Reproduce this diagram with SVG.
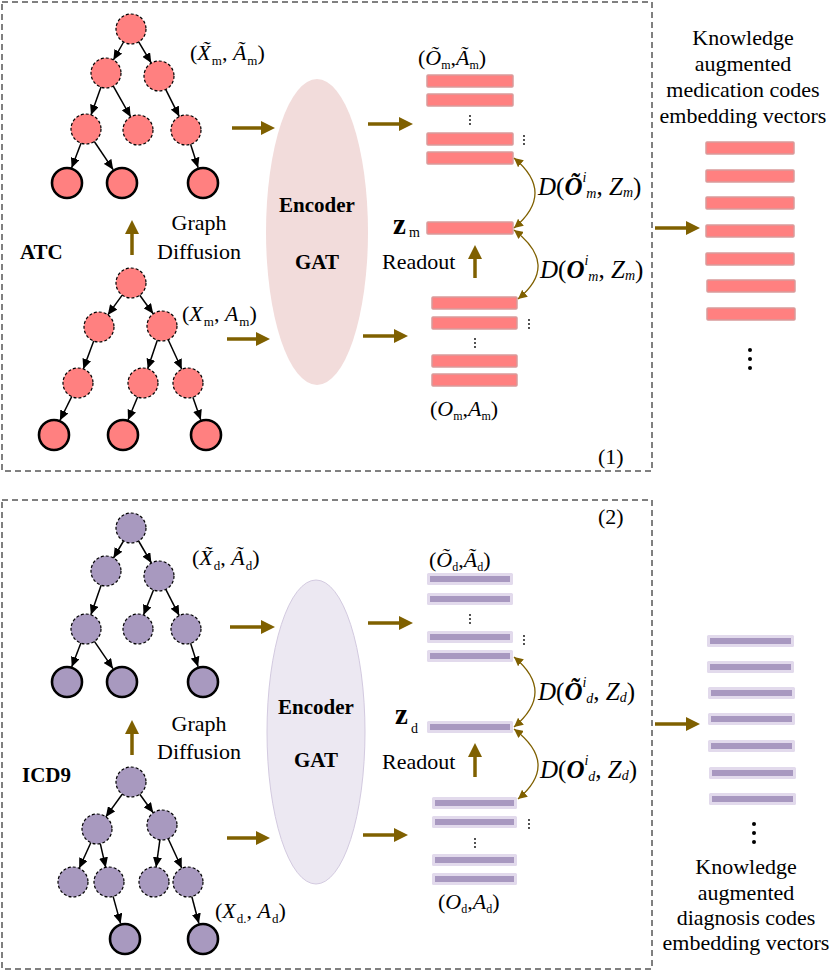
<svg xmlns="http://www.w3.org/2000/svg" width="830" height="971" viewBox="0 0 830 971">
<style>
text{font-family:"Liberation Serif","Times New Roman",serif;fill:#000}
.box{fill:none;stroke:#000;stroke-width:1;stroke-dasharray:6,4}
.pn{fill:#FF8080;stroke:#000;stroke-width:1.2;stroke-dasharray:3,2}
.pl{fill:#FF8080;stroke:#000;stroke-width:2.6}
.un{fill:#A899BF;stroke:#000;stroke-width:1.2;stroke-dasharray:3,2}
.ul{fill:#A899BF;stroke:#000;stroke-width:2.6}
.e{stroke:#000;stroke-width:1.5;fill:none;marker-end:url(#ah)}
.b{stroke:#7F6000;stroke-width:3.5;fill:none;marker-end:url(#bh)}
.c{stroke:#7F6000;stroke-width:1.3;fill:none;marker-start:url(#ch);marker-end:url(#ch)}
.pb{fill:#FF8080;stroke:#D99A9A;stroke-width:1.5}
.ub{fill:#E2DAEC}
.ui{fill:#A898C0}
.t{font-size:22px}
.bo{font-size:21px;font-weight:bold}
.it{font-style:italic}
.dt{fill:#000}
</style>
<defs>
<marker id="ah" markerUnits="userSpaceOnUse" markerWidth="10" markerHeight="9" refX="10" refY="4.5" orient="auto"><path d="M0,0 L10,4.5 L0,9 z" fill="#000"/></marker>
<marker id="bh" markerUnits="userSpaceOnUse" markerWidth="15" markerHeight="14" refX="4" refY="7" orient="auto"><path d="M0,0 L14,7 L0,14 z" fill="#7F6000"/></marker>
<marker id="ch" markerUnits="userSpaceOnUse" markerWidth="10" markerHeight="9" refX="9" refY="4.5" orient="auto-start-reverse"><path d="M0,0 L9,4.5 L0,9 z" fill="#7F6000"/></marker>
</defs>

<rect class="box" x="2" y="2" width="650" height="469"/>
<rect class="box" x="2" y="500" width="650" height="469"/>

<!-- ellipses -->
<g id="encoder-m">
<ellipse cx="317" cy="232" rx="51" ry="153" fill="#F2DCDB"/>
<text class="bo" x="317" y="212" text-anchor="middle">Encoder</text>
<text class="bo" x="317" y="269" text-anchor="middle">GAT</text>
</g>
<g id="encoder-d">
<ellipse cx="316" cy="732" rx="49" ry="152" fill="#ECE8F2" stroke="#D3CAE0" stroke-width="1"/>
<text class="bo" x="316" y="714" text-anchor="middle">Encoder</text>
<text class="bo" x="316" y="767" text-anchor="middle">GAT</text>
</g>

<!-- tree 1 (tilde m) -->
<g id="tree-m-tilde">
<circle class="pn" cx="131" cy="29" r="15"/>
<circle class="pn" cx="106" cy="73" r="15"/>
<circle class="pn" cx="159" cy="76" r="15"/>
<circle class="pn" cx="86" cy="129" r="15"/>
<circle class="pn" cx="138" cy="130" r="15"/>
<circle class="pn" cx="186" cy="130" r="15"/>
<circle class="pl" cx="67" cy="183" r="15"/>
<circle class="pl" cx="122" cy="183" r="15"/>
<circle class="pl" cx="203" cy="183" r="15"/>
</g>
<!-- tree 2 (m) -->
<g id="tree-m">
<circle class="pn" cx="131" cy="283" r="15"/>
<circle class="pn" cx="99" cy="327" r="15"/>
<circle class="pn" cx="162" cy="326" r="15"/>
<circle class="pn" cx="78" cy="383" r="15"/>
<circle class="pn" cx="143" cy="383" r="15"/>
<circle class="pn" cx="188" cy="383" r="15"/>
<circle class="pl" cx="54" cy="435" r="15"/>
<circle class="pl" cx="123" cy="435" r="15"/>
<circle class="pl" cx="206" cy="435" r="15"/>
</g>
<!-- tree 3 (tilde d) -->
<g id="tree-d-tilde">
<circle class="un" cx="131" cy="528" r="15"/>
<circle class="un" cx="106" cy="571" r="15"/>
<circle class="un" cx="159" cy="576" r="15"/>
<circle class="un" cx="86" cy="629" r="15"/>
<circle class="un" cx="138" cy="629" r="15"/>
<circle class="un" cx="186" cy="629" r="15"/>
<circle class="ul" cx="67" cy="682" r="15"/>
<circle class="ul" cx="122" cy="682" r="15"/>
<circle class="ul" cx="203" cy="682" r="15"/>
</g>
<!-- tree 4 (d) -->
<g id="tree-d">
<circle class="un" cx="131" cy="782" r="15"/>
<circle class="un" cx="97" cy="829" r="15"/>
<circle class="un" cx="162" cy="825" r="15"/>
<circle class="un" cx="73" cy="882" r="15"/>
<circle class="un" cx="109" cy="882" r="15"/>
<circle class="un" cx="154" cy="882" r="15"/>
<circle class="un" cx="188" cy="882" r="15"/>
<circle class="ul" cx="125" cy="939" r="15"/>
<circle class="ul" cx="203" cy="939" r="15"/>
</g>

<!-- bars -->
<g id="bars-m-tilde">
<rect class="pb" x="427" y="75" width="86" height="12" rx="1"/>
<rect class="pb" x="427" y="94" width="86" height="12" rx="1"/>
<rect class="pb" x="427" y="133" width="86" height="12" rx="1"/>
<rect class="pb" x="427" y="152" width="86" height="12" rx="1"/>
<circle class="dt" cx="470" cy="116" r="0.9"/><circle class="dt" cx="470" cy="120" r="0.9"/><circle class="dt" cx="470" cy="124" r="0.9"/>
<circle class="dt" cx="524" cy="136" r="0.9"/><circle class="dt" cx="524" cy="140" r="0.9"/><circle class="dt" cx="524" cy="144" r="0.9"/>
<text class="t" x="418" y="65" font-size="20">(<tspan class="it">Õ</tspan><tspan font-size="12" dy="4">m</tspan><tspan dy="-4">,</tspan><tspan class="it">Ã</tspan><tspan font-size="12" dy="4">m</tspan><tspan dy="-4">)</tspan></text>
</g>
<g id="bar-zm">
<rect class="pb" x="427" y="222" width="86" height="12" rx="1"/>
<text x="393" y="234" font-size="29" font-weight="bold">z</text>
<text x="409" y="237" font-size="14">m</text>
</g>
<g id="bars-m">
<rect class="pb" x="432" y="297" width="85" height="12" rx="1"/>
<rect class="pb" x="432" y="317" width="85" height="12" rx="1"/>
<rect class="pb" x="432" y="355" width="85" height="12" rx="1"/>
<rect class="pb" x="432" y="374" width="85" height="12" rx="1"/>
<circle class="dt" cx="475" cy="339" r="0.9"/><circle class="dt" cx="475" cy="343" r="0.9"/><circle class="dt" cx="475" cy="347" r="0.9"/>
<circle class="dt" cx="529" cy="320" r="0.9"/><circle class="dt" cx="529" cy="324" r="0.9"/><circle class="dt" cx="529" cy="328" r="0.9"/>
<text class="t" x="430" y="416" font-size="20">(<tspan class="it">O</tspan><tspan font-size="12" dy="4">m</tspan><tspan dy="-4">,</tspan><tspan class="it">A</tspan><tspan font-size="12" dy="4">m</tspan><tspan dy="-4">)</tspan></text>
</g>
<g id="bars-m-out">
<rect class="pb" x="706" y="142" width="88" height="12" rx="1"/>
<rect class="pb" x="706" y="170" width="88" height="12" rx="1"/>
<rect class="pb" x="706" y="197" width="88" height="12" rx="1"/>
<rect class="pb" x="706" y="225" width="88" height="12" rx="1"/>
<rect class="pb" x="706" y="253" width="88" height="12" rx="1"/>
<rect class="pb" x="707" y="280" width="88" height="12" rx="1"/>
<rect class="pb" x="707" y="308" width="88" height="12" rx="1"/>
<circle class="dt" cx="750" cy="350" r="2"/><circle class="dt" cx="750" cy="359" r="2"/><circle class="dt" cx="750" cy="368" r="2"/>
<text class="t" text-anchor="middle"><tspan x="743" y="45">Knowledge</tspan><tspan x="743" y="71">augmented</tspan><tspan x="743" y="97">medication codes</tspan><tspan x="743" y="123">embedding vectors</tspan></text>
</g>

<g id="bars-d-tilde">
<rect class="ub" x="427" y="573" width="86" height="12" rx="1.5"/><rect class="ui" x="430" y="576" width="80" height="6"/>
<rect class="ub" x="427" y="593" width="86" height="12" rx="1.5"/><rect class="ui" x="430" y="596" width="80" height="6"/>
<rect class="ub" x="427" y="631" width="86" height="12" rx="1.5"/><rect class="ui" x="430" y="634" width="80" height="6"/>
<rect class="ub" x="427" y="650" width="86" height="12" rx="1.5"/><rect class="ui" x="430" y="653" width="80" height="6"/>
<circle class="dt" cx="470" cy="615" r="0.9"/><circle class="dt" cx="470" cy="619" r="0.9"/><circle class="dt" cx="470" cy="623" r="0.9"/>
<circle class="dt" cx="524" cy="636" r="0.9"/><circle class="dt" cx="524" cy="640" r="0.9"/><circle class="dt" cx="524" cy="644" r="0.9"/>
<text class="t" x="429" y="567" font-size="20">(<tspan class="it">Õ</tspan><tspan font-size="12" dy="4">d</tspan><tspan dy="-4">,</tspan><tspan class="it">Ã</tspan><tspan font-size="12" dy="4">d</tspan><tspan dy="-4">)</tspan></text>
</g>
<g id="bar-zd">
<rect class="ub" x="427" y="721" width="86" height="12" rx="1.5"/><rect class="ui" x="430" y="724" width="80" height="6"/>
<text x="395" y="724" font-size="29" font-weight="bold">z</text>
<text x="411" y="733" font-size="14">d</text>
</g>
<g id="bars-d">
<rect class="ub" x="432" y="797" width="85" height="12" rx="1.5"/><rect class="ui" x="435" y="800" width="79" height="6"/>
<rect class="ub" x="432" y="816" width="85" height="12" rx="1.5"/><rect class="ui" x="435" y="819" width="79" height="6"/>
<rect class="ub" x="432" y="854" width="85" height="12" rx="1.5"/><rect class="ui" x="435" y="857" width="79" height="6"/>
<rect class="ub" x="432" y="873" width="85" height="12" rx="1.5"/><rect class="ui" x="435" y="876" width="79" height="6"/>
<circle class="dt" cx="475" cy="839" r="0.9"/><circle class="dt" cx="475" cy="843" r="0.9"/><circle class="dt" cx="475" cy="847" r="0.9"/>
<circle class="dt" cx="529" cy="820" r="0.9"/><circle class="dt" cx="529" cy="824" r="0.9"/><circle class="dt" cx="529" cy="828" r="0.9"/>
<text class="t" x="438" y="909" font-size="20">(<tspan class="it">O</tspan><tspan font-size="12" dy="4">d</tspan><tspan dy="-4">,</tspan><tspan class="it">A</tspan><tspan font-size="12" dy="4">d</tspan><tspan dy="-4">)</tspan></text>
</g>
<g id="bars-d-out">
<rect class="ub" x="707" y="635" width="87" height="12" rx="1.5"/><rect class="ui" x="710" y="638" width="81" height="6"/>
<rect class="ub" x="707" y="661" width="87" height="12" rx="1.5"/><rect class="ui" x="710" y="664" width="81" height="6"/>
<rect class="ub" x="708" y="687" width="87" height="12" rx="1.5"/><rect class="ui" x="711" y="690" width="81" height="6"/>
<rect class="ub" x="708" y="713" width="87" height="12" rx="1.5"/><rect class="ui" x="711" y="716" width="81" height="6"/>
<rect class="ub" x="708" y="740" width="87" height="12" rx="1.5"/><rect class="ui" x="711" y="743" width="81" height="6"/>
<rect class="ub" x="709" y="767" width="87" height="12" rx="1.5"/><rect class="ui" x="712" y="770" width="81" height="6"/>
<rect class="ub" x="709" y="793" width="87" height="12" rx="1.5"/><rect class="ui" x="712" y="796" width="81" height="6"/>
<circle class="dt" cx="754" cy="824" r="2"/><circle class="dt" cx="754" cy="833" r="2"/><circle class="dt" cx="754" cy="842" r="2"/>
<text class="t" text-anchor="middle"><tspan x="746" y="874">Knowledge</tspan><tspan x="746" y="900">augmented</tspan><tspan x="746" y="925">diagnosis codes</tspan><tspan x="746" y="950">embedding vectors</tspan></text>
</g>

<!-- labels -->
<g id="labels">
<text class="t" x="190" y="60">(<tspan class="it">X̃</tspan><tspan font-size="13" dx="1" dy="5">m</tspan><tspan dy="-5">, </tspan><tspan class="it">Ã</tspan><tspan font-size="13" dx="1" dy="5">m</tspan><tspan dy="-5">)</tspan></text>
<text class="t" x="182" y="321">(<tspan class="it">X</tspan><tspan font-size="13" dx="1" dy="5">m</tspan><tspan dy="-5">, </tspan><tspan class="it">A</tspan><tspan font-size="13" dx="1" dy="5">m</tspan><tspan dy="-5">)</tspan></text>
<text class="t" x="192" y="565">(<tspan class="it">X̃</tspan><tspan font-size="13" dx="1" dy="5">d</tspan><tspan dy="-5">, </tspan><tspan class="it">Ã</tspan><tspan font-size="13" dx="1" dy="5">d</tspan><tspan dy="-5">)</tspan></text>
<text class="t" x="215" y="918">(<tspan class="it">X</tspan><tspan font-size="13" dx="1" dy="5">d.</tspan><tspan dy="-5">, </tspan><tspan class="it">A</tspan><tspan font-size="13" dx="1" dy="5">d</tspan><tspan dy="-5">)</tspan></text>
<text class="t" x="199" y="230" text-anchor="middle">Graph</text>
<text class="t" x="199" y="259" text-anchor="middle">Diffusion</text>
<text class="t" x="199" y="731" text-anchor="middle">Graph</text>
<text class="t" x="199" y="759" text-anchor="middle">Diffusion</text>
<text class="bo" x="20" y="259">ATC</text>
<text class="bo" x="22" y="782">ICD9</text>
<text class="t" x="382" y="269" font-size="25">Readout</text>
<text class="t" x="382" y="769" font-size="25">Readout</text>
<text class="t" x="598" y="464" font-size="20">(1)</text>
<text class="t" x="598" y="524" font-size="20">(2)</text>
<text x="538" y="195" font-size="25"><tspan class="it">D</tspan>(<tspan class="it" font-weight="bold">Õ</tspan><tspan class="it" font-size="14" dx="0" dy="-13">i</tspan><tspan class="it" font-size="14" dx="0" dy="16">m</tspan><tspan dy="-3">, </tspan><tspan class="it">Z</tspan><tspan class="it" font-size="14" dy="2">m</tspan><tspan dy="-2">)</tspan></text>
<text x="540" y="278" font-size="25"><tspan class="it">D</tspan>(<tspan class="it" font-weight="bold">O</tspan><tspan class="it" font-size="14" dx="0" dy="-13">i</tspan><tspan class="it" font-size="14" dx="0" dy="16">m</tspan><tspan dy="-3">, </tspan><tspan class="it">Z</tspan><tspan class="it" font-size="14" dy="2">m</tspan><tspan dy="-2">)</tspan></text>
<text x="538" y="700" font-size="25"><tspan class="it">D</tspan>(<tspan class="it" font-weight="bold">Õ</tspan><tspan class="it" font-size="14" dx="0" dy="-13">i</tspan><tspan class="it" font-size="14" dx="0" dy="16">d</tspan><tspan dy="-3">, </tspan><tspan class="it">Z</tspan><tspan class="it" font-size="14" dy="2">d</tspan><tspan dy="-2">)</tspan></text>
<text x="540" y="778" font-size="25"><tspan class="it">D</tspan>(<tspan class="it" font-weight="bold">O</tspan><tspan class="it" font-size="14" dx="0" dy="-13">i</tspan><tspan class="it" font-size="14" dx="0" dy="16">d</tspan><tspan dy="-3">, </tspan><tspan class="it">Z</tspan><tspan class="it" font-size="14" dy="2">d</tspan><tspan dy="-2">)</tspan></text>
</g>

<!-- connectors -->
<g id="connectors">
<path class="e" d="M123.6,42 L113.4,60"/>
<path class="e" d="M138.7,41.9 L151.3,63.1"/>
<path class="e" d="M101,87.1 L91,114.9"/>
<path class="e" d="M113.3,86.1 L130.7,116.9"/>
<path class="e" d="M165.7,89.4 L179.3,116.6"/>
<path class="e" d="M81,143.2 L71.6,168"/>
<path class="e" d="M94.3,141.5 L113.2,169.7"/>
<path class="e" d="M190.6,144.3 L198.1,167.7"/>

<path class="e" d="M122.2,295.1 L107.8,314.9"/>
<path class="e" d="M139.8,295.2 L153.2,313.8"/>
<path class="e" d="M93.7,341 L83.3,369"/>
<path class="e" d="M157.3,340.2 L147.7,368.8"/>
<path class="e" d="M168.2,339.7 L181.8,369.3"/>
<path class="e" d="M71.7,396.6 L59.9,420.5"/>
<path class="e" d="M137.6,397 L128,420"/>
<path class="e" d="M192.9,397.2 L200.8,419.9"/>

<path class="e" d="M123.5,541 L113.5,558"/>
<path class="e" d="M138.6,541 L151.4,563"/>
<path class="e" d="M101.1,585.2 L90.9,614.8"/>
<path class="e" d="M153.5,590 L143.5,615"/>
<path class="e" d="M165.8,589.4 L179.2,615.6"/>
<path class="e" d="M80.9,643.1 L71.7,667"/>
<path class="e" d="M94.4,641.4 L113,668.7"/>
<path class="e" d="M190.6,643.3 L198.1,666.7"/>

<path class="e" d="M122.2,794.2 L105.8,816.9"/>
<path class="e" d="M139.8,794.2 L153.2,812.8"/>
<path class="e" d="M90.8,842.7 L79.2,868.3"/>
<path class="e" d="M100.3,843.6 L105.7,867.4"/>
<path class="e" d="M159.9,839.9 L156.1,867.2"/>
<path class="e" d="M168.2,838.7 L181.8,868.3"/>
<path class="e" d="M113.1,896.4 L120.6,923.6"/>
<path class="e" d="M191.8,896.5 L198.9,923.5"/>

<line class="b" x1="232" y1="128" x2="265" y2="128"/>
<line class="b" x1="227" y1="339" x2="260" y2="339"/>
<line class="b" x1="368" y1="124" x2="403" y2="124"/>
<line class="b" x1="363" y1="336" x2="398" y2="336"/>
<line class="b" x1="655" y1="228" x2="690" y2="228"/>
<line class="b" x1="132" y1="255" x2="132" y2="230"/>
<line class="b" x1="475" y1="278" x2="475" y2="255"/>

<line class="b" x1="230" y1="627" x2="265" y2="627"/>
<line class="b" x1="227" y1="838" x2="260" y2="838"/>
<line class="b" x1="368" y1="623" x2="403" y2="623"/>
<line class="b" x1="363" y1="835" x2="398" y2="835"/>
<line class="b" x1="655" y1="724" x2="690" y2="724"/>
<line class="b" x1="132" y1="755" x2="132" y2="730"/>
<line class="b" x1="475" y1="777" x2="475" y2="753"/>

<path class="c" d="M514,158 Q556,193 514,228"/>
<path class="c" d="M514,230 Q560,265 518,299"/>
<path class="c" d="M514,657 Q556,692 514,727"/>
<path class="c" d="M514,729 Q560,764 518,799"/>
</g>
</svg>
